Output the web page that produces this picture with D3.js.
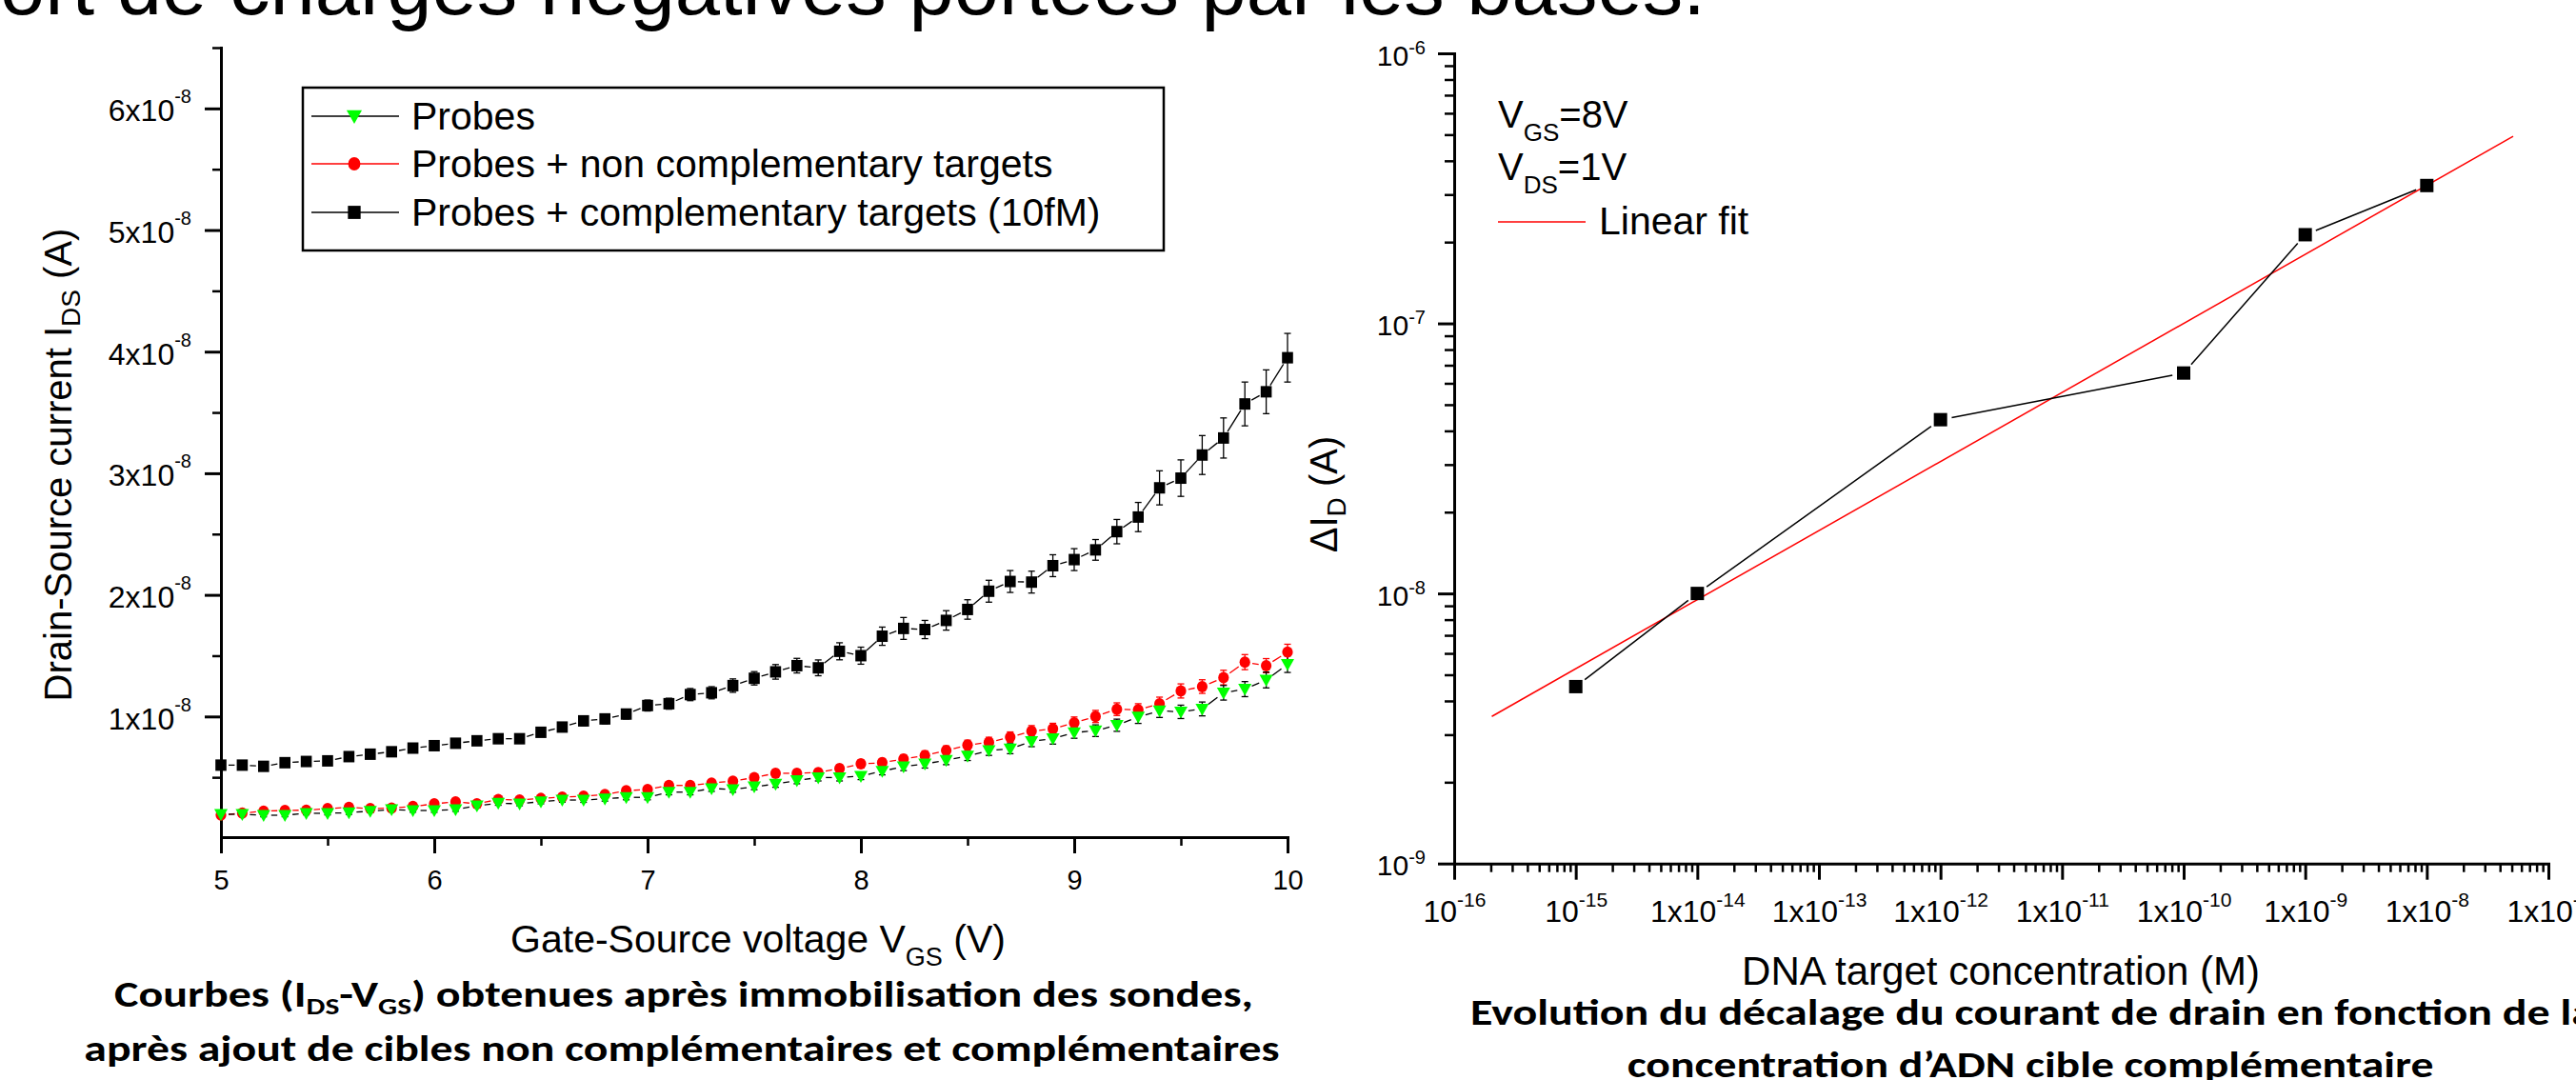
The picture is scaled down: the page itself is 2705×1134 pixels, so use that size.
<!DOCTYPE html>
<html>
<head>
<meta charset="utf-8">
<script src="https://cdn.jsdelivr.net/npm/d3@7"></script>
<style>
  body { margin: 0; background: #fff; }
  svg { display: block; }
  text { font-family: "Liberation Sans", Arial, sans-serif; fill: #000; }
  .caption { font-family: Carlito, Lato, "Open Sans", sans-serif; font-weight: bold; }
</style>
</head>
<body>
<svg id="chart" width="2705" height="1134"></svg>
<script>
// ---- left chart data: gate-source voltage (V) and drain current (in units of 1e-8 A)
const vgs = [5.0, 5.1, 5.2, 5.3, 5.4, 5.5, 5.6, 5.7, 5.8, 5.9,
             6.0, 6.1, 6.2, 6.3, 6.4, 6.5, 6.6, 6.7, 6.8, 6.9,
             7.0, 7.1, 7.2, 7.3, 7.4, 7.5, 7.6, 7.7, 7.8, 7.9,
             8.0, 8.1, 8.2, 8.3, 8.4, 8.5, 8.6, 8.7, 8.8, 8.9,
             9.0, 9.1, 9.2, 9.3, 9.4, 9.5, 9.6, 9.7, 9.8, 9.9, 10.0];

const idsProbes = [0.196, 0.196, 0.188, 0.188, 0.204, 0.204, 0.209, 0.222, 0.235, 0.227,
                   0.227, 0.235, 0.266, 0.287, 0.282, 0.300, 0.313, 0.313, 0.323, 0.335,
                   0.335, 0.378, 0.378, 0.408, 0.400, 0.423, 0.444, 0.474, 0.498, 0.498,
                   0.510, 0.551, 0.588, 0.610, 0.640, 0.675, 0.720, 0.735, 0.795, 0.818,
                   0.868, 0.883, 0.928, 0.996, 1.047, 1.038, 1.062, 1.195, 1.225, 1.300, 1.430];
const errProbes = [0.012, 0.012, 0.013, 0.012, 0.013, 0.013, 0.014, 0.013, 0.014, 0.014,
                   0.015, 0.015, 0.016, 0.017, 0.016, 0.018, 0.018, 0.019, 0.019, 0.020,
                   0.020, 0.022, 0.022, 0.024, 0.023, 0.025, 0.026, 0.027, 0.028, 0.028,
                   0.029, 0.031, 0.033, 0.034, 0.036, 0.037, 0.040, 0.041, 0.043, 0.045,
                   0.047, 0.048, 0.050, 0.053, 0.055, 0.055, 0.057, 0.060, 0.062, 0.065, 0.068];

const idsNonCompl = [0.190, 0.205, 0.222, 0.227, 0.230, 0.242, 0.253, 0.242, 0.247, 0.260,
                     0.282, 0.298, 0.282, 0.318, 0.313, 0.326, 0.337, 0.345, 0.358, 0.390,
                     0.400, 0.433, 0.433, 0.453, 0.468, 0.498, 0.533, 0.533, 0.539, 0.572,
                     0.610, 0.620, 0.650, 0.680, 0.720, 0.765, 0.788, 0.830, 0.880, 0.898,
                     0.948, 1.000, 1.060, 1.055, 1.105, 1.210, 1.246, 1.320, 1.447, 1.418, 1.530];
const errNonCompl = [0.015, 0.014, 0.016, 0.015, 0.016, 0.017, 0.015, 0.016, 0.017, 0.016,
                     0.018, 0.020, 0.018, 0.020, 0.019, 0.021, 0.020, 0.022, 0.021, 0.023,
                     0.024, 0.025, 0.024, 0.026, 0.027, 0.028, 0.030, 0.029, 0.030, 0.032,
                     0.033, 0.034, 0.035, 0.037, 0.038, 0.040, 0.041, 0.043, 0.045, 0.046,
                     0.048, 0.050, 0.052, 0.050, 0.054, 0.058, 0.056, 0.060, 0.062, 0.058, 0.064];

const idsCompl = [0.600, 0.600, 0.590, 0.620, 0.630, 0.635, 0.670, 0.690, 0.710, 0.740,
                  0.760, 0.780, 0.800, 0.817, 0.817, 0.870, 0.913, 0.964, 0.980, 1.020,
                  1.090, 1.105, 1.180, 1.195, 1.254, 1.314, 1.367, 1.418, 1.400, 1.536,
                  1.500, 1.660, 1.724, 1.715, 1.790, 1.880, 2.030, 2.110, 2.105, 2.240,
                  2.290, 2.370, 2.520, 2.640, 2.880, 2.960, 3.150, 3.290, 3.570, 3.670, 3.950];
const errCompl = [0.020, 0.020, 0.020, 0.025, 0.025, 0.025, 0.025, 0.030, 0.030, 0.030,
                  0.030, 0.030, 0.030, 0.035, 0.035, 0.035, 0.035, 0.040, 0.040, 0.040,
                  0.045, 0.045, 0.050, 0.050, 0.055, 0.055, 0.060, 0.060, 0.065, 0.070,
                  0.070, 0.075, 0.090, 0.075, 0.080, 0.080, 0.090, 0.090, 0.090, 0.090,
                  0.090, 0.085, 0.100, 0.120, 0.140, 0.150, 0.160, 0.165, 0.180, 0.180, 0.200];

const leftXTicks = [5, 6, 7, 8, 9, 10];
const leftXMinor = [5.5, 6.5, 7.5, 8.5, 9.5];
const leftYTicks = [1, 2, 3, 4, 5, 6];
const leftYMinor = [0.5, 1.5, 2.5, 3.5, 4.5, 5.5, 6.5];
const leftYExponent = '-8';

const legendNames = ['Probes', 'Probes + non complementary targets', 'Probes + complementary targets (10fM)'];

// ---- right chart data: target concentration (M) and drain current shift (A)
const concentrations = [1e-15, 1e-14, 1e-12, 1e-10, 1e-9, 1e-8];
const deltaId = [4.52e-9, 1.0e-8, 4.4e-8, 6.55e-8, 2.13e-7, 3.24e-7];
const fitRange = [2.04e-16, 5.13e-8];

const rightXTicks = [1e-16, 1e-15, 1e-14, 1e-13, 1e-12, 1e-11, 1e-10, 1e-9, 1e-8, 1e-7];
const rightXLabels = [['10', '-16'], ['10', '-15'], ['1x10', '-14'], ['1x10', '-13'], ['1x10', '-12'],
                      ['1x10', '-11'], ['1x10', '-10'], ['1x10', '-9'], ['1x10', '-8'], ['1x10', '-7']];
const rightYTicks = [1e-9, 1e-8, 1e-7, 1e-6];
const rightYLabels = [['10', '-9'], ['10', '-8'], ['10', '-7'], ['10', '-6']];

const svg = d3.select('#chart');

// title line, cut off by the top of the slide
svg.append('text')
    .attr('x', 0).attr('y', 15)
    .style('font-size', '85px')
    .text('ort de charges négatives portées par les bases.');

function styleAxis(g) {
    g.attr('font-size', null).attr('font-family', null);
    g.selectAll('.domain').attr('stroke', '#000').attr('stroke-width', 3).attr('stroke-linecap', 'square');
    g.selectAll('.tick line').attr('stroke', '#000').attr('stroke-width', 3);
}

function minorAxis(axis, transform) {
    let g = svg.append('g').attr('transform', transform).call(axis.tickFormat(''));
    g.select('.domain').remove();
    g.selectAll('.tick line').attr('stroke', '#000').attr('stroke-width', 2.5);
    g.selectAll('text').remove();
}

function supText(sel, base, exp, supSize, supDy) {
    sel.text(null);
    sel.append('tspan').text(base);
    sel.append('tspan').attr('dy', supDy).style('font-size', supSize + 'px').text(exp);
}

// pieces of polyline between markers, with a gap left round each marker
function gappedSegments(pts, gap) {
    let segs = [];
    for (let k = 0; k < pts.length - 1; k++) {
        let [x0, y0] = pts[k], [x1, y1] = pts[k + 1];
        let dx = x1 - x0, dy = y1 - y0, len = Math.hypot(dx, dy);
        if (len <= 2 * gap) continue;
        let ux = dx / len, uy = dy / len;
        segs.push([[x0 + ux * gap, y0 + uy * gap], [x1 - ux * gap, y1 - uy * gap]]);
    }
    return segs;
}

const line = d3.line();

/* ===================== left chart ===================== */
const xL = d3.scaleLinear().domain([5, 10]).range([232, 1352]);
const yL = d3.scaleLinear().domain([0, 6.5]).range([880, 50]);

let gxL = svg.append('g').attr('transform', 'translate(0,879)')
    .call(d3.axisBottom(xL).tickValues(leftXTicks).tickSize(17).tickSizeOuter(0).tickFormat(d3.format('d')));
styleAxis(gxL);
gxL.selectAll('text').attr('y', 55).attr('dy', null).style('font-size', '29px');
minorAxis(d3.axisBottom(xL).tickValues(leftXMinor).tickSize(9), 'translate(0,879)');

let gyL = svg.append('g').attr('transform', 'translate(232,0)')
    .call(d3.axisLeft(yL).tickValues(leftYTicks).tickSize(17).tickSizeOuter(0));
styleAxis(gyL);
gyL.selectAll('text')
    .attr('x', -31).attr('y', 13).attr('dy', null)
    .style('font-size', '32px')
    .each(function(d) { supText(d3.select(this), d + 'x10', leftYExponent, 20, -19); });
minorAxis(d3.axisLeft(yL).tickValues(leftYMinor).tickSize(9), 'translate(232,0)');

const leftSeries = [
    {values: idsCompl, err: errCompl, line: '#000', fill: '#000', shape: 'square'},
    {values: idsNonCompl, err: errNonCompl, line: '#ff0000', fill: '#ff0000', shape: 'circle'},
    {values: idsProbes, err: errProbes, line: '#000', fill: '#00ff00', shape: 'triangle'}
];

function drawMarker(g, shape, fill, x, y, scale) {
    scale = scale || 1;
    if (shape === 'square') {
        g.append('rect').attr('x', x - 5.8 * scale).attr('y', y - 6 * scale)
            .attr('width', 11.6 * scale).attr('height', 12 * scale).attr('fill', fill);
    } else if (shape === 'circle') {
        g.append('ellipse').attr('cx', x).attr('cy', y).attr('rx', 5.6 * scale).attr('ry', 6 * scale).attr('fill', fill);
    } else {
        g.append('path')
            .attr('d', `M${x - 7 * scale},${y - 5.5 * scale}L${x + 7 * scale},${y - 5.5 * scale}L${x},${y + 7 * scale}Z`)
            .attr('fill', fill);
    }
}

let gL = svg.append('g');
leftSeries.forEach(s => {
    let pts = vgs.map((v, i) => [xL(v), yL(s.values[i])]);
    gappedSegments(pts, 8).forEach(seg => {
        gL.append('path').attr('d', line(seg)).attr('stroke', s.line)
            .attr('stroke-width', 1.3).attr('fill', 'none');
    });
});
leftSeries.forEach(s => {
    let gE = gL.append('g').attr('stroke', s.line === '#ff0000' ? '#ff0000' : '#000').attr('stroke-width', 1.3);
    vgs.forEach((v, i) => {
        let x = xL(v), y0 = yL(s.values[i] - s.err[i]), y1 = yL(s.values[i] + s.err[i]);
        gE.append('line').attr('x1', x).attr('x2', x).attr('y1', y0).attr('y2', y1);
        gE.append('line').attr('x1', x - 3.5).attr('x2', x + 3.5).attr('y1', y0).attr('y2', y0);
        gE.append('line').attr('x1', x - 3.5).attr('x2', x + 3.5).attr('y1', y1).attr('y2', y1);
    });
});
leftSeries.forEach(s => {
    let gM = gL.append('g');
    vgs.forEach((v, i) => drawMarker(gM, s.shape, s.fill, xL(v), yL(s.values[i])));
});

// legend
svg.append('rect').attr('x', 318).attr('y', 92).attr('width', 904).attr('height', 171)
    .attr('fill', 'none').attr('stroke', '#000').attr('stroke-width', 2.5);
const legendRows = [
    {name: legendNames[0], line: '#000', fill: '#00ff00', shape: 'triangle', y: 122},
    {name: legendNames[1], line: '#ff0000', fill: '#ff0000', shape: 'circle', y: 172},
    {name: legendNames[2], line: '#000', fill: '#000', shape: 'square', y: 223}
];
legendRows.forEach(r => {
    let g = svg.append('g');
    g.append('line').attr('x1', 327).attr('x2', 419).attr('y1', r.y).attr('y2', r.y)
        .attr('stroke', r.line).attr('stroke-width', 1.5);
    drawMarker(g, r.shape, r.fill, 372, r.y, 1.15);
    g.append('text').attr('x', 432).attr('y', r.y + 14).style('font-size', '41px').text(r.name);
});

// axis titles
let ylabL = svg.append('text')
    .attr('transform', 'translate(75,488) rotate(-90)')
    .attr('text-anchor', 'middle').style('font-size', '40px');
ylabL.append('tspan').text('Drain-Source current I');
ylabL.append('tspan').attr('dy', 9).style('font-size', '28px').text('DS');
ylabL.append('tspan').attr('dy', -9).text(' (A)');

let xlabL = svg.append('text')
    .attr('x', 796).attr('y', 1000)
    .attr('text-anchor', 'middle').style('font-size', '41px');
xlabL.append('tspan').text('Gate-Source voltage V');
xlabL.append('tspan').attr('dy', 14).style('font-size', '27px').text('GS');
xlabL.append('tspan').attr('dy', -14).text(' (V)');

/* ===================== right chart ===================== */
const xR = d3.scaleLog().domain([1e-16, 1e-7]).range([1527, 2676]);
const yR = d3.scaleLog().domain([1e-9, 1e-6]).range([906.7, 56]);

let xMinorR = [], yMinorR = [];
rightXTicks.slice(0, -1).forEach(t => [2, 3, 4, 5, 6, 7, 8, 9].forEach(m => xMinorR.push(t * m)));
rightYTicks.slice(0, -1).forEach(t => [2, 3, 4, 5, 6, 7, 8, 9].forEach(m => yMinorR.push(t * m)));

let gxR = svg.append('g').attr('transform', 'translate(0,906.7)')
    .call(d3.axisBottom(xR).tickValues(rightXTicks).tickSize(17).tickSizeOuter(0));
styleAxis(gxR);
gxR.selectAll('text')
    .attr('y', 61).attr('dy', null)
    .style('font-size', '32px')
    .each(function(d, i) { supText(d3.select(this), rightXLabels[i][0], rightXLabels[i][1], 21, -16); });
minorAxis(d3.axisBottom(xR).tickValues(xMinorR).tickSize(9), 'translate(0,906.7)');

let gyR = svg.append('g').attr('transform', 'translate(1527,0)')
    .call(d3.axisLeft(yR).tickValues(rightYTicks).tickSize(17).tickSizeOuter(0));
styleAxis(gyR);
gyR.selectAll('text')
    .attr('x', -30).attr('y', 12).attr('dy', null)
    .style('font-size', '30px')
    .each(function(d, i) { supText(d3.select(this), rightYLabels[i][0], rightYLabels[i][1], 20, -12); });
minorAxis(d3.axisLeft(yR).tickValues(yMinorR).tickSize(10), 'translate(1527,0)');

// linear fit in log-log space
let lx = concentrations.map(Math.log10), ly = deltaId.map(Math.log10);
let mx = d3.mean(lx), my = d3.mean(ly);
let slope = d3.sum(lx, (v, i) => (v - mx) * (ly[i] - my)) / d3.sum(lx, v => (v - mx) * (v - mx));
let icpt = my - slope * mx;
let fitY = c => Math.pow(10, icpt + slope * Math.log10(c));

let gR = svg.append('g');
gR.append('path')
    .attr('d', line(fitRange.map(c => [xR(c), yR(fitY(c))])))
    .attr('stroke', '#ff0000').attr('stroke-width', 1.5).attr('fill', 'none');

let ptsR = concentrations.map((c, i) => [xR(c), yR(deltaId[i])]);
gappedSegments(ptsR, 12).forEach(seg => {
    gR.append('path').attr('d', line(seg)).attr('stroke', '#000')
        .attr('stroke-width', 1.5).attr('fill', 'none');
});
gR.selectAll('rect.pt').data(ptsR).enter().append('rect')
    .attr('class', 'pt')
    .attr('x', d => d[0] - 7).attr('y', d => d[1] - 7)
    .attr('width', 14).attr('height', 14).attr('fill', '#000');

// annotation
[['GS', '=8V', 134], ['DS', '=1V', 189]].forEach(a => {
    let t = svg.append('text').attr('x', 1573).attr('y', a[2]).style('font-size', '40px');
    t.append('tspan').text('V');
    t.append('tspan').attr('dy', 14).style('font-size', '26px').text(a[0]);
    t.append('tspan').attr('dy', -14).text(a[1]);
});
svg.append('line').attr('x1', 1573).attr('x2', 1665).attr('y1', 233).attr('y2', 233)
    .attr('stroke', '#ff0000').attr('stroke-width', 1.5);
svg.append('text').attr('x', 1679).attr('y', 246).style('font-size', '41px').text('Linear fit');

let ylabR = svg.append('text')
    .attr('transform', 'translate(1404,519) rotate(-90)')
    .attr('text-anchor', 'middle').style('font-size', '40px');
ylabR.append('tspan').text('\u0394I');
ylabR.append('tspan').attr('dy', 9).style('font-size', '28px').text('D');
ylabR.append('tspan').attr('dy', -9).text(' (A)');

svg.append('text').attr('x', 2101).attr('y', 1034)
    .attr('text-anchor', 'middle').style('font-size', '42px')
    .text('DNA target concentration (M)');

/* ===================== captions ===================== */
function fitWidth(t, cx, width) {
    let w = t.node().getBBox().width;
    t.attr('transform', `translate(${cx},0) scale(${width / w},1) translate(${-cx},0)`);
}

let cap1 = svg.append('text').attr('class', 'caption')
    .attr('x', 718).attr('y', 1057).attr('text-anchor', 'middle').style('font-size', '38px');
cap1.append('tspan').text('Courbes (I');
cap1.append('tspan').attr('dy', 8).style('font-size', '25px').text('DS');
cap1.append('tspan').attr('dy', -8).text('-V');
cap1.append('tspan').attr('dy', 8).style('font-size', '25px').text('GS');
cap1.append('tspan').attr('dy', -8).text(') obtenues après immobilisation des sondes,');
fitWidth(cap1, 718, 1196);

let cap2 = svg.append('text').attr('class', 'caption')
    .attr('x', 716).attr('y', 1114).attr('text-anchor', 'middle').style('font-size', '38px')
    .text('après ajout de cibles non complémentaires et complémentaires');
fitWidth(cap2, 716, 1256);

let cap3 = svg.append('text').attr('class', 'caption')
    .attr('x', 2134).attr('y', 1076).attr('text-anchor', 'middle').style('font-size', '38px')
    .text('Evolution du décalage du courant de drain en fonction de la');
fitWidth(cap3, 2134, 1180);

let cap4 = svg.append('text').attr('class', 'caption')
    .attr('x', 2132).attr('y', 1131).attr('text-anchor', 'middle').style('font-size', '38px')
    .text('concentration d\u2019ADN cible complémentaire');
fitWidth(cap4, 2132, 847);
</script>
</body>
</html>
